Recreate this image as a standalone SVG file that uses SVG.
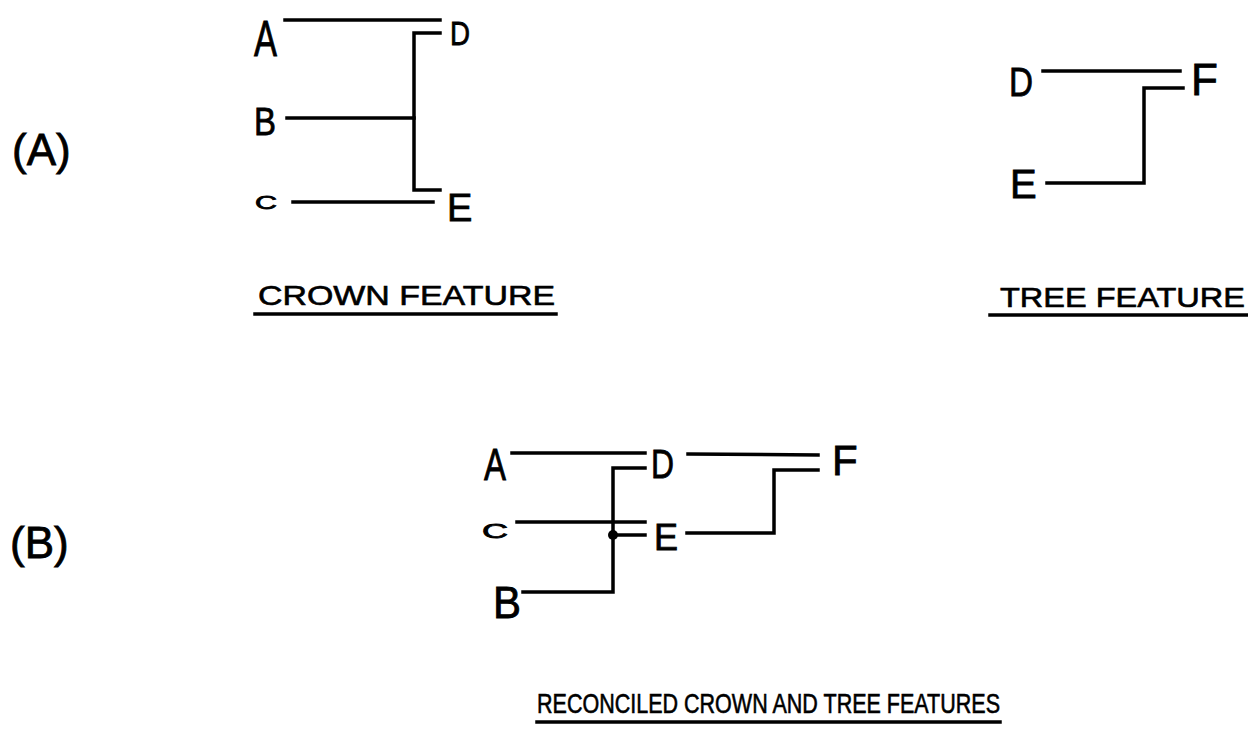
<svg xmlns="http://www.w3.org/2000/svg" width="1248" height="734" viewBox="0 0 1248 734">
<style>
.ln{stroke:#000;stroke-width:3.5;fill:none;stroke-linecap:square}
.lb{font-family:"Liberation Sans","DejaVu Sans",sans-serif;fill:#000;stroke:#000;stroke-width:0.8}
.cap{font-family:"Liberation Sans","DejaVu Sans",sans-serif;fill:#000;stroke:#000;stroke-width:0.6;font-size:28px}
</style>
<rect width="1248" height="734" fill="#fff"/>
<g id="panel-labels">
<text class="lb" x="12" y="165" font-size="44">(A)</text>
<text class="lb" x="10" y="558" font-size="44">(B)</text>
</g>
<g id="crown-A">
<g id="nA1"><text class="lb" x="254" y="56" font-size="50" textLength="23" lengthAdjust="spacingAndGlyphs">A</text></g>
<g id="nB1"><text class="lb" x="254" y="135" font-size="38" textLength="22" lengthAdjust="spacingAndGlyphs">B</text></g>
<g id="nC1"><text class="lb" x="255" y="209" font-size="19" textLength="22" lengthAdjust="spacingAndGlyphs">C</text></g>
<g id="nD1"><text class="lb" x="450" y="45" font-size="34" textLength="20" lengthAdjust="spacingAndGlyphs">D</text></g>
<g id="nE1"><text class="lb" x="447" y="221" font-size="38">E</text></g>
</g>
<g id="tree-A">
<g id="nD2"><text class="lb" x="1009" y="96" font-size="40" textLength="24" lengthAdjust="spacingAndGlyphs">D</text></g>
<g id="nE2"><text class="lb" x="1010" y="198" font-size="40">E</text></g>
<g id="nF2"><text class="lb" x="1191" y="95" font-size="44">F</text></g>
</g>
<g id="reconciled-B">
<g id="nA3"><text class="lb" x="484" y="480" font-size="44" textLength="22" lengthAdjust="spacingAndGlyphs">A</text></g>
<g id="nC3"><text class="lb" x="482" y="538" font-size="21" textLength="26" lengthAdjust="spacingAndGlyphs">C</text></g>
<g id="nB3"><text class="lb" x="493" y="618" font-size="44" textLength="28" lengthAdjust="spacingAndGlyphs">B</text></g>
<g id="nD3"><text class="lb" x="651" y="478" font-size="40" textLength="23" lengthAdjust="spacingAndGlyphs">D</text></g>
<g id="nE3"><text class="lb" x="654" y="550" font-size="36">E</text></g>
<g id="nF3"><text class="lb" x="832" y="475" font-size="42">F</text></g>
</g>
<g id="connectors">
<line class="ln" x1="285" y1="20" x2="440" y2="20"/>
<polyline class="ln" points="440,33 414,33 414,190 440,190"/>
<line class="ln" x1="287" y1="118" x2="414" y2="118"/>
<line class="ln" x1="293" y1="202" x2="433" y2="202"/>
<line class="ln" x1="1043" y1="71" x2="1180" y2="71"/>
<polyline class="ln" points="1183,88 1144,88 1144,183 1047,183"/>
<line class="ln" x1="512" y1="453" x2="645" y2="453"/>
<polyline class="ln" points="645,468 613,468 613,592 523,592"/>
<line class="ln" x1="517" y1="522" x2="645" y2="522"/>
<line class="ln" x1="613" y1="535" x2="645" y2="535"/>
<circle cx="613" cy="535" r="5" fill="#000"/>
<line class="ln" x1="688" y1="454" x2="818" y2="455"/>
<polyline class="ln" points="818,470 774,470 774,533 687,533"/>
</g>
<g id="captions">
<text class="cap" x="258" y="305" textLength="297" lengthAdjust="spacingAndGlyphs">CROWN FEATURE</text>
<line class="ln" x1="255" y1="314" x2="556" y2="314"/>
<text class="cap" x="1000" y="307" textLength="245" lengthAdjust="spacingAndGlyphs">TREE FEATURE</text>
<line class="ln" x1="990" y1="315" x2="1247" y2="315"/>
<text class="cap" x="537" y="713" font-size="30" textLength="463" lengthAdjust="spacingAndGlyphs">RECONCILED CROWN AND TREE FEATURES</text>
<line class="ln" x1="537" y1="722" x2="1000" y2="722"/>
</g>
</svg>
